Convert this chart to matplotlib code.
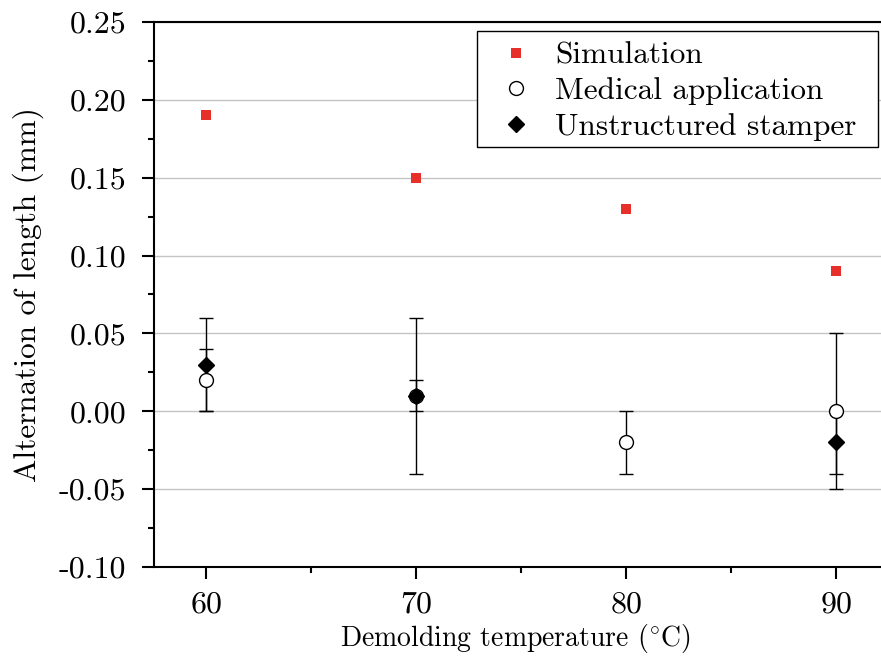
import matplotlib
matplotlib.use("Agg")
import matplotlib.pyplot as plt
from matplotlib.patches import Rectangle
from matplotlib.ticker import MultipleLocator, FixedLocator

plt.rcParams["font.family"] = "serif"
plt.rcParams["font.serif"] = ["cmr10", "DejaVu Serif"]
plt.rcParams["mathtext.fontset"] = "cm"
plt.rcParams["axes.unicode_minus"] = False
plt.rcParams["axes.formatter.use_mathtext"] = True

# Demolding temperatures (°C)
temperature = [60, 70, 80, 90]

# Simulated alternation of length (mm)
simulation = [0.19, 0.15, 0.13, 0.09]

# Medical application mould: mean and error
medical = [0.02, 0.01, -0.02, 0.00]
medical_err = [0.02, 0.01, 0.02, 0.05]

# Unstructured stamper: mean and error (no measurement at 80 °C)
unstructured_temp = [60, 70, 90]
unstructured = [0.03, 0.01, -0.02]
unstructured_err = [0.03, 0.05, 0.02]

y_ticks = [-0.10, -0.05, 0.00, 0.05, 0.10, 0.15, 0.20, 0.25]
y_ticklabels = ["-0.10", "-0.05", "0.00", "0.05", "0.10", "0.15", "0.20", "0.25"]

fig = plt.figure(figsize=(8.81, 6.58), dpi=100)
# the right part of the frame runs slightly past the figure edge
ax = fig.add_axes([153.5 / 881, 1 - 567 / 658, (888.5 - 153.5) / 881, (567 - 22) / 658])

ax.errorbar(temperature, medical, yerr=medical_err, fmt="none", ecolor="black",
            elinewidth=1.0, capsize=4.7, capthick=1.0, zorder=3)
ax.errorbar(unstructured_temp, unstructured, yerr=unstructured_err, fmt="none",
            ecolor="black", elinewidth=1.0, capsize=4.7, capthick=1.0, zorder=3)

ax.plot(temperature, simulation, linestyle="none", marker="s", markersize=7,
        color="#e8302a", markeredgewidth=0, label="Simulation", zorder=4)
ax.plot(temperature, medical, linestyle="none", marker="o", markersize=10,
        markerfacecolor="white", markeredgecolor="black", markeredgewidth=1.0,
        label="Medical application", zorder=4)
ax.plot(unstructured_temp, unstructured, linestyle="none", marker="D", markersize=8.6,
        color="black", label="Unstructured stamper", zorder=5)

ax.set_xlim(57.5, 92.5)
ax.set_ylim(-0.10, 0.25)

ax.xaxis.set_major_locator(FixedLocator(temperature))
ax.xaxis.set_minor_locator(FixedLocator([65, 75, 85]))
ax.set_yticks(y_ticks)
ax.set_yticklabels(y_ticklabels)
ax.yaxis.set_minor_locator(MultipleLocator(0.025))

ax.grid(axis="y", which="major", color="#c4c4c4", linewidth=1.0, zorder=0)
ax.set_axisbelow(True)

for side in ["left", "bottom", "top"]:
    ax.spines[side].set_linewidth(1.5)
ax.spines["right"].set_visible(False)

ax.tick_params(axis="both", which="major", direction="out", length=8.5, width=1.5,
               labelsize=23, pad=9, top=False, right=False)
ax.tick_params(axis="both", which="minor", direction="out", length=4.5, width=1.5,
               top=False, right=False)
ax.tick_params(axis="y", which="major", pad=11)

ax.set_xlabel(r"Demolding temperature ($^{\circ}$C)", fontsize=20, labelpad=2, x=0.492)
ax.set_ylabel("Alternation of length (mm)", fontsize=22.5, labelpad=11)

# legend entries without their own frame; the box is drawn separately
leg = ax.legend(loc="upper left", bbox_to_anchor=(0.459, 0.964), fontsize=22.5,
                frameon=False, borderaxespad=0.0, borderpad=0.0,
                handletextpad=0.45, labelspacing=0.25, handlelength=1.6)
leg.set_zorder(7)
box = Rectangle((0.440, 0.7706), 0.9857 - 0.440, 0.9835 - 0.7706,
                transform=ax.transAxes, facecolor="white", edgecolor="black",
                linewidth=1.0, zorder=6)
ax.add_patch(box)

fig.savefig("out.png", dpi=100)
